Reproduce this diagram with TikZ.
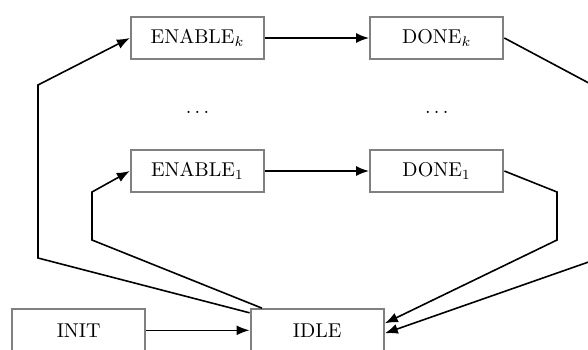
\documentclass[tikz,border=0pt]{standalone}
\usetikzlibrary{arrows.meta,calc}
\tikzset{
  state/.style={draw=gray, line width=1.15pt, fill=white,
    minimum width=66.5pt, minimum height=21pt, inner sep=2pt},
  flow/.style={-{Latex[length=6.5pt,width=5pt]}, line width=0.8pt},
  gap/.style={inner sep=0pt, anchor=base}
}
\begin{document}
\begin{tikzpicture}[x=0.5pt, y=-0.5pt]
  \useasboundingbox (0,0) rectangle (588,349);
  \clip (0,0) rectangle (588,349);

  % states of the controller
  \node[state] (enk)  at (197.5,38)  {ENABLE$_k$};
  \node[state] (dnk)  at (436.7,38)  {DONE$_k$};
  \node[state] (en1)  at (197.5,171) {ENABLE$_1$};
  \node[state] (dn1)  at (436.7,171) {DONE$_1$};
  \node[state] (init) at (78.7,330.3) {INIT};
  \node[state] (idle) at (317.2,330.3) {IDLE};

  % elided intermediate stages
  \node[gap] (dotsl) at (197.5,113.4) {$\dots$};
  \node[gap] (dotsr) at (436.7,113.4) {$\dots$};

  % enable -> done
  \draw[flow] (enk) -- (dnk);
  \draw[flow] (en1) -- (dn1);
  \draw[flow] (init) -- (idle);

  % idle -> enable stages
  \coordinate (a1) at (38,258);
  \coordinate (a2) at (38,85);
  \draw[flow] (idle) -- (a1) -- (a2) -- (enk.west);
  \coordinate (b1) at (92,240);
  \coordinate (b2) at (92,192);
  \draw[flow] (idle) -- (b1) -- (b2) -- (en1.west);

  % done stages -> idle
  \coordinate (c1) at (557,192);
  \coordinate (c2) at (557,240);
  \draw[flow] (dn1.east) -- (c1) -- (c2) -- ($(idle.east)+(0,-7)$);
  \coordinate (d1) at (600,89);
  \coordinate (d2) at (600,258);
  \draw[flow] (dnk.east) -- (d1) -- (d2) -- ($(idle.east)+(0,3)$);
\end{tikzpicture}
\end{document}
